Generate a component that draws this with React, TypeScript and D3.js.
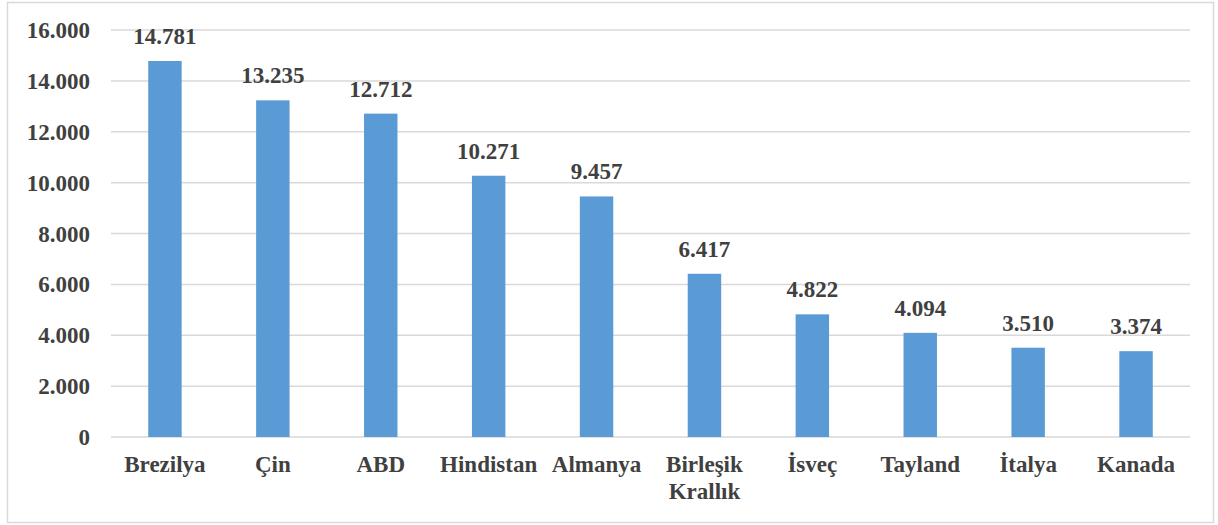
import * as d3 from "d3";

const countries = ["Brezilya", "Çin", "ABD", "Hindistan", "Almanya", "Birleşik Krallık", "İsveç", "Tayland", "İtalya", "Kanada"];
const values = [14781, 13235, 12712, 10271, 9457, 6417, 4822, 4094, 3510, 3374];
const yTicks = [0, 2000, 4000, 6000, 8000, 10000, 12000, 14000, 16000];

const W = 1218;
const H = 525;
const margin = { left: 111, right: 28, top: 30, bottom: 88 };

// Turkish style thousands: 14.781
const fmt = (v: number) => d3.format(",")(v).replace(/,/g, ".");

const App = () => {
  const x = d3
    .scaleBand()
    .domain(countries)
    .range([margin.left, W - margin.right])
    .paddingInner(0.69)
    .paddingOuter(0.345);
  const y = d3.scaleLinear().domain([0, 16000]).range([H - margin.bottom, margin.top]);

  const font = "'Liberation Serif', 'Times New Roman', serif";
  const textColor = "#404040";

  return (
    <div style={{ position: "fixed", left: 0, top: 0 }}>
      <svg width={W} height={H} style={{ display: "block", background: "#fff" }}>
        <rect x={7.5} y={2.5} width={1206} height={520} fill="#fff" stroke="#d9d9d9" strokeWidth={1.5} />
        {yTicks.map((t) => (
          <g key={t}>
            <line x1={margin.left} x2={W - margin.right} y1={y(t)} y2={y(t)} stroke="#d9d9d9" strokeWidth={1.5} />
            <text
              x={90}
              y={y(t)}
              dy="0.35em"
              textAnchor="end"
              fontFamily={font}
              fontWeight="bold"
              fontSize={23}
              fill={textColor}
            >
              {fmt(t)}
            </text>
          </g>
        ))}
        {countries.map((c, i) => {
          const bx = x(c) ?? 0;
          const cx = bx + x.bandwidth() / 2;
          const words = c.split(" ");
          return (
            <g key={c}>
              <rect x={bx} y={y(values[i])} width={x.bandwidth()} height={y(0) - y(values[i])} fill="#5b9bd5" />
              <text
                x={cx}
                y={y(values[i]) - 17}
                textAnchor="middle"
                fontFamily={font}
                fontWeight="bold"
                fontSize={23}
                fill={textColor}
              >
                {fmt(values[i])}
              </text>
              <text textAnchor="middle" fontFamily={font} fontWeight="bold" fontSize={23} fill={textColor}>
                {words.map((w, j) => (
                  <tspan key={w} x={cx} y={472 + j * 27}>
                    {w}
                  </tspan>
                ))}
              </text>
            </g>
          );
        })}
      </svg>
    </div>
  );
};

export default App;
